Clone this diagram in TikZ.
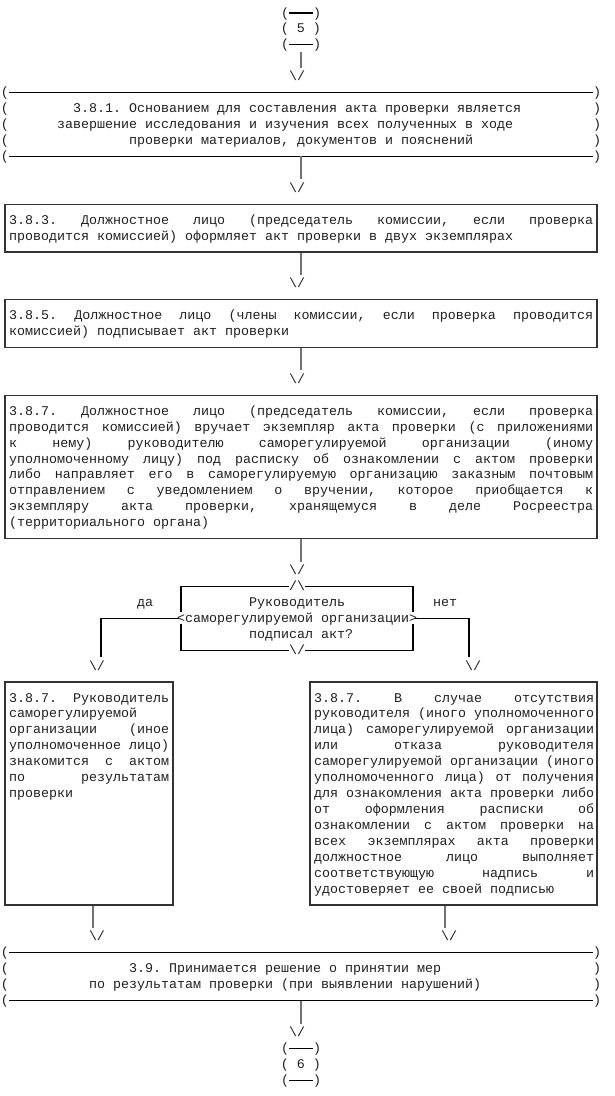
\documentclass[tikz,border=0pt]{standalone}
\usepackage{fontspec}
\setmainfont{Liberation Mono}
\usetikzlibrary{fit}
\newcommand\Y[1]{-13-15.93*#1}
\newcommand\fs{\fontsize{13.333}{15.93}\selectfont\frenchspacing}
\newcommand\JL[1]{\hbox to\hsize{\frenchspacing\spaceskip=.6em plus 1fil\xspaceskip=\spaceskip\relax #1}}
\newcommand\LL[1]{\hbox to\hsize{#1\hfil}}
\newcommand\bs{\textbackslash}
\tikzset{
  ch/.style={inner sep=0pt, anchor=base, font=\fs, text=black!88},
  txt/.style={inner sep=0pt, anchor=base west, font=\fs, text=black!88},
  asc/.style={line width=1.1pt, black},
  conn/.style={line width=1.8pt, black!55},
  boxline/.style={draw=black!80, line width=1.2pt, inner sep=0pt},
}
\begin{document}
\begin{tikzpicture}[x=1pt,y=1pt]
\useasboundingbox (0,0) rectangle (614,-1096);

% ---- circle 5
\node[ch] (p5a) at (285,\Y{0}-4) {(};
\node[ch] (q5a) at (317,\Y{0}-4) {)};
\draw[asc] (p5a.east |- 0,\Y{0}) -- (q5a.west |- 0,\Y{0});
\node[ch] (n5) at (301,\Y{1}-4) {( 5 )};
\node[ch] (p5b) at (285,\Y{2}-4) {(};
\node[ch] (q5b) at (317,\Y{2}-4) {)};
\draw[asc] (p5b.east |- 0,\Y{2}) -- (q5b.west |- 0,\Y{2});
\coordinate (c1s) at (301,\Y{2}-7);
\coordinate (c1e) at (301,\Y{3}-7);
\draw[conn] (c1s) -- (c1e);
\node[ch] (a1) at (297,\Y{4}-4) {\bs/};

% ---- top box 3.8.1
\foreach \r in {5,...,9}{
  \node[ch] (lp\r) at (5,\Y{\r}-4) {(};
  \node[ch] (rp\r) at (597,\Y{\r}-4) {)};
}
\draw[asc] (9,\Y{5}) -- (593,\Y{5});
\draw[asc] (9,\Y{9}) -- (593,\Y{9});
\node[txt] (t381a) at (73,\Y{6}-4) {3.8.1. Основанием для составления акта проверки является};
\node[txt] (t381b) at (57,\Y{7}-4) {завершение исследования и изучения всех полученных в ходе};
\node[txt] (t381c) at (129,\Y{8}-4) {проверки материалов, документов и пояснений};
\coordinate (c2s) at (301,\Y{9});
\coordinate (c2e) at (301,\Y{10}-7);
\draw[conn] (c2s) -- (c2e);
\node[ch] (a2) at (297,\Y{11}-4) {\bs/};

% ---- box 3.8.3
\node[boxline, fit={(5,\Y{12}) (597,\Y{15})}] (b383) {};
\node[txt] (t383) at (9,\Y{13}-4) {\vtop{\hsize=584pt
\JL{3.8.3. Должностное лицо (председатель комиссии, если проверка}
\LL{проводится комиссией)  оформляет акт проверки в двух экземплярах}}};
\coordinate (c3e) at (301,\Y{16}-7);
\draw[conn] (b383.south) -- (c3e);
\node[ch] (a3) at (297,\Y{17}-4) {\bs/};

% ---- box 3.8.5
\node[boxline, fit={(5,\Y{18}) (597,\Y{21})}] (b385) {};
\node[txt] (t385) at (9,\Y{19}-4) {\vtop{\hsize=584pt
\JL{3.8.5. Должностное лицо (члены комиссии, если проверка проводится}
\LL{комиссией) подписывает акт проверки}}};
\coordinate (c4e) at (301,\Y{22}-7);
\draw[conn] (b385.south) -- (c4e);
\node[ch] (a4) at (297,\Y{23}-4) {\bs/};

% ---- box 3.8.7
\node[boxline, fit={(5,\Y{24}) (597,\Y{33})}] (b387) {};
\node[txt] (t387) at (9,\Y{25}-4) {\vtop{\hsize=584pt
\JL{3.8.7. Должностное лицо (председатель комиссии, если проверка}
\JL{проводится комиссией) вручает экземпляр акта проверки (с приложениями}
\JL{к нему) руководителю саморегулируемой организации (иному}
\JL{уполномоченному лицу) под расписку об ознакомлении с актом проверки}
\JL{либо направляет его в саморегулируемую организацию заказным почтовым}
\JL{отправлением с уведомлением о вручении, которое приобщается к}
\JL{экземпляру акта проверки, хранящемуся в деле Росреестра}
\LL{(территориального органа)}}};
\coordinate (c5e) at (301,\Y{34}-7);
\draw[conn] (b387.south) -- (c5e);
\node[ch] (a5) at (297,\Y{35}-4) {\bs/};

% ---- decision
\node[ch] (dtop) at (297,\Y{36}-4) {/\bs};
\node[ch] (dbot) at (297,\Y{40}-4) {\bs/};
\node[txt] (d1) at (249,\Y{37}-4) {Руководитель};
\node[txt] (d2) at (177,\Y{38}-4) {<саморегулируемой организации>};
\node[txt] (d3) at (249,\Y{39}-4) {подписал акт?};
\draw[asc] (289,\Y{36}) -- (181,\Y{36}) -- (181,\Y{38}+6);
\draw[asc] (181,\Y{38}-6) -- (181,\Y{40}) -- (289,\Y{40});
\draw[asc] (305,\Y{36}) -- (413,\Y{36}) -- (413,\Y{38}+6);
\draw[asc] (413,\Y{38}-6) -- (413,\Y{40}) -- (305,\Y{40});
\node[txt] (yes) at (137,\Y{37}-4) {да};
\node[txt] (no) at (433,\Y{37}-4) {нет};
\coordinate (bl1) at (179,\Y{38});
\coordinate (bl2) at (101,\Y{38});
\coordinate (bl3) at (101,\Y{40}-7);
\draw[asc] (bl1) -- (bl2) -- (bl3);
\node[ch] (a6) at (97,\Y{41}-4) {\bs/};
\coordinate (br1) at (415,\Y{38});
\coordinate (br2) at (469,\Y{38});
\coordinate (br3) at (469,\Y{40}-7);
\draw[asc] (br1) -- (br2) -- (br3);
\node[ch] (a7) at (473,\Y{41}-4) {\bs/};

% ---- left box
\node[boxline, fit={(5,\Y{42}) (173,\Y{56})}] (bl) {};
\node[txt] (tl) at (9,\Y{43}-4) {\vtop{\hsize=160pt
\JL{3.8.7. Руководитель}
\LL{саморегулируемой}
\JL{организации (иное}
\JL{уполномоченное лицо)}
\JL{знакомится с актом}
\JL{по результатам}
\LL{проверки}}};
% ---- right box
\node[boxline, fit={(310,\Y{42}) (597,\Y{56})}] (br) {};
\node[txt] (tr) at (314,\Y{43}-4) {\vtop{\hsize=280pt
\JL{3.8.7. В случае отсутствия}
\JL{руководителя (иного уполномоченного}
\JL{лица) саморегулируемой организации}
\JL{или отказа руководителя}
\JL{саморегулируемой организации (иного}
\JL{уполномоченного лица) от получения}
\JL{для ознакомления акта проверки либо}
\JL{от оформления расписки об}
\JL{ознакомлении с актом проверки на}
\JL{всех экземплярах акта проверки}
\JL{должностное лицо выполняет}
\JL{соответствующую надпись и}
\LL{удостоверяет ее своей подписью}}};
\coordinate (c8e) at (93,\Y{57}-7);
\draw[conn] (bl.south -| c8e) -- (c8e);
\node[ch] (a8) at (97,\Y{58}-4) {\bs/};
\coordinate (c9e) at (445,\Y{57}-7);
\draw[conn] (br.south -| c9e) -- (c9e);
\node[ch] (a9) at (449,\Y{58}-4) {\bs/};

% ---- box 3.9
\foreach \r in {59,...,62}{
  \node[ch] (lq\r) at (5,\Y{\r}-4) {(};
  \node[ch] (rq\r) at (597,\Y{\r}-4) {)};
}
\draw[asc] (9,\Y{59}) -- (593,\Y{59});
\draw[asc] (9,\Y{62}) -- (593,\Y{62});
\node[txt] (t39a) at (129,\Y{60}-4) {3.9. Принимается решение о принятии мер};
\node[txt] (t39b) at (89,\Y{61}-4) {по результатам проверки (при выявлении нарушений)};
\coordinate (c10s) at (301,\Y{62});
\coordinate (c10e) at (301,\Y{63}-7);
\draw[conn] (c10s) -- (c10e);
\node[ch] (a10) at (297,\Y{64}-4) {\bs/};

% ---- circle 6
\node[ch] (p6a) at (285,\Y{65}-4) {(};
\node[ch] (q6a) at (317,\Y{65}-4) {)};
\draw[asc] (p6a.east |- 0,\Y{65}) -- (q6a.west |- 0,\Y{65});
\node[ch] (n6) at (301,\Y{66}-4) {( 6 )};
\node[ch] (p6b) at (285,\Y{67}-4) {(};
\node[ch] (q6b) at (317,\Y{67}-4) {)};
\draw[asc] (p6b.east |- 0,\Y{67}) -- (q6b.west |- 0,\Y{67});
\end{tikzpicture}
\end{document}
